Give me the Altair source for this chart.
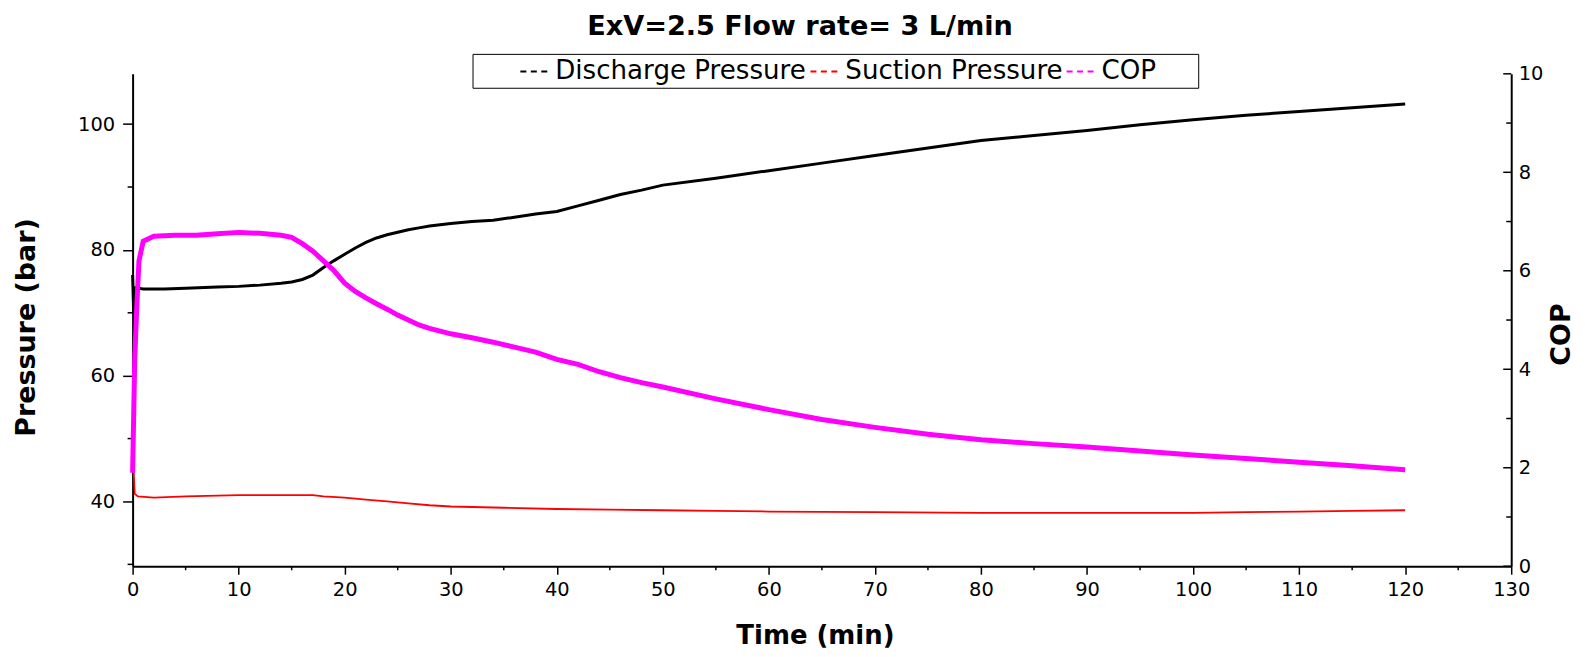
import altair as alt
import pandas as pd

title_text = "ExV=2.5 Flow rate= 3 L/min"
series_names = ["Discharge Pressure", "Suction Pressure", "COP"]
series_colors = ["#000000", "#ff0000", "#ff00ff"]

# Discharge pressure (bar)
dis_t = [0, 0.1, 0.2, 1, 3, 5, 8, 10, 12, 14, 15, 16, 17, 18, 19, 20, 21, 22, 23, 24,
         25, 26, 27, 28, 30, 32, 34, 36, 38, 40, 42, 44, 46, 48, 50, 55, 60, 65, 70, 75,
         80, 85, 90, 95, 100, 105, 110, 115, 120]
dis_v = [76, 70, 74, 73.8, 73.8, 73.9, 74.1, 74.2, 74.4, 74.7, 74.9, 75.3, 76.0, 77.2, 78.3, 79.3, 80.3, 81.2, 81.9, 82.4,
         82.8, 83.2, 83.5, 83.8, 84.2, 84.5, 84.7, 85.2, 85.7, 86.1, 87.0, 87.9, 88.8, 89.5, 90.3, 91.4, 92.6, 93.8, 95.0, 96.2,
         97.4, 98.2, 99.0, 99.9, 100.7, 101.4, 102.0, 102.6, 103.2]

# Suction pressure (bar)
suc_t = [0, 0.1, 0.2, 0.5, 2, 5, 10, 15, 17, 18, 20, 22, 24, 26, 28, 30, 35, 40, 45, 50,
         55, 60, 70, 80, 90, 100, 105, 110, 115, 120]
suc_v = [49.3, 44.8, 41.2, 40.8, 40.6, 40.8, 41.0, 41.0, 41.0, 40.8, 40.6, 40.3, 40.0, 39.7, 39.4, 39.2, 39.0, 38.8, 38.7, 38.6,
         38.5, 38.4, 38.3, 38.2, 38.2, 38.2, 38.3, 38.4, 38.5, 38.6]

# COP
cop_t = [0, 0.2, 0.4, 0.6, 1, 2, 4, 6, 8, 10, 12, 14, 15, 16, 17, 18, 19, 20, 21, 22,
         23, 24, 25, 26, 27, 28, 30, 32, 34, 36, 38, 40, 42, 44, 46, 48, 50, 55, 60, 65,
         70, 75, 80, 85, 90, 95, 100, 105, 110, 115, 120]
cop_v = [1.9, 4.2, 5.3, 6.2, 6.6, 6.7, 6.72, 6.72, 6.75, 6.78, 6.76, 6.72, 6.68, 6.55, 6.4, 6.2, 6.0, 5.75, 5.58, 5.45,
         5.33, 5.22, 5.1, 5.0, 4.9, 4.83, 4.72, 4.64, 4.55, 4.45, 4.35, 4.2, 4.1, 3.95, 3.83, 3.73, 3.64, 3.4, 3.18, 2.98,
         2.82, 2.68, 2.57, 2.49, 2.42, 2.34, 2.26, 2.19, 2.11, 2.04, 1.96]

x_major = list(range(0, 140, 10))
x_minor = list(range(5, 130, 10))
p_major = [40, 60, 80, 100]
p_minor = [30, 50, 70, 90]
cop_major = [0, 2, 4, 6, 8, 10]
cop_minor = [1, 3, 5, 7, 9]

W, H = 1383, 494
FONT = "DejaVu Sans"

dis_df = pd.DataFrame({"t": dis_t, "v": dis_v, "series": series_names[0]})
suc_df = pd.DataFrame({"t": suc_t, "v": suc_v, "series": series_names[1]})
cop_df = pd.DataFrame({"t": cop_t, "v": cop_v, "series": series_names[2]})

x_scale = alt.Scale(domain=[0, 130], nice=False, zero=False)
p_scale = alt.Scale(domain=[29.7, 108.0], nice=False, zero=False)
c_scale = alt.Scale(domain=[0, 10], nice=False, zero=False)
color_scale = alt.Scale(domain=series_names, range=series_colors)

legend = alt.Legend(
    title="\u2003", titleOrient="left", titleFontSize=20, titlePadding=41,
    orient="none", legendX=341, legendY=-20, direction="horizontal",
    symbolType="stroke", symbolSize=729, symbolStrokeWidth=2, symbolDash=[6, 4.5],
    symbolOffset=3, labelOffset=7, columnPadding=0,
    labelFont=FONT, labelFontSize=26.2, labelColor="black", labelLimit=600,
    labelExpr="datum.label == 'COP' ? 'COP\u2800\u2800' : datum.label",
    strokeColor="black", fillColor="white", padding=3,
)

x_axis = alt.Axis(
    values=x_major, tickSize=8, tickWidth=1.5, tickColor="black",
    domainWidth=2, domainColor="black", labelFont=FONT, labelFontSize=19.5,
    labelColor="black", labelPadding=6, labelFlush=False, labelOverlap=False,
    grid=False, title="Time (min)", titleFont=FONT, titleFontSize=26,
    titleFontWeight="bold", titleColor="black", titleX=W / 2 - 7, titleY=70,
    titleAlign="center", titleBaseline="middle",
)
p_axis = alt.Axis(
    values=p_major, tickSize=10, tickWidth=1.5, tickColor="black",
    domainWidth=2, domainColor="black", labelFont=FONT, labelFontSize=19.5,
    labelColor="black", labelPadding=8, labelFlush=False, labelOverlap=False,
    grid=False, title="Pressure (bar)", titleFont=FONT, titleFontSize=27,
    titleFontWeight="bold", titleColor="black", titleAngle=270, titleX=-106,
    titleY=254, titleAlign="center", titleBaseline="middle",
)
c_axis = alt.Axis(
    orient="right", values=cop_major, ticks=False, tickSize=0,
    domainWidth=2, domainColor="black", labelFont=FONT, labelFontSize=19.5,
    labelColor="black", labelPadding=7, labelFlush=False, labelOverlap=False,
    grid=False, title="COP", titleFont=FONT, titleFontSize=27,
    titleFontWeight="bold", titleColor="black", titleAngle=270, titleX=50,
    titleY=261, titleAlign="center", titleBaseline="middle",
)

X = alt.X("t:Q", scale=x_scale, axis=x_axis)
YP = alt.Y("v:Q", scale=p_scale, axis=p_axis)
YC = alt.Y("v:Q", scale=c_scale, axis=c_axis)
C = alt.Color("series:N", scale=color_scale, legend=legend)

dis_line = alt.Chart(dis_df).mark_line(strokeWidth=3).encode(x=X, y=YP, color=C)
suc_line = alt.Chart(suc_df).mark_line(strokeWidth=1.8).encode(x=X, y=YP, color=C)
p_minor_ticks = alt.Chart(pd.DataFrame({"v": p_minor})).mark_rule(
    color="black", strokeWidth=1.5).encode(y=YP, x=alt.value(-5), x2=alt.value(0))
x_minor_ticks = alt.Chart(pd.DataFrame({"t": x_minor})).mark_rule(
    color="black", strokeWidth=1.5).encode(x=X, y=alt.value(H), y2=alt.value(H + 4))

left = alt.layer(dis_line, suc_line, p_minor_ticks, x_minor_ticks)

cop_line = alt.Chart(cop_df).mark_line(strokeWidth=5).encode(x=X, y=YC, color=C)
c_major_ticks = alt.Chart(pd.DataFrame({"v": cop_major})).mark_rule(
    color="black", strokeWidth=1.5).encode(y=YC, x=alt.value(W - 8), x2=alt.value(W))
c_minor_ticks = alt.Chart(pd.DataFrame({"v": cop_minor})).mark_rule(
    color="black", strokeWidth=1.5).encode(y=YC, x=alt.value(W - 5), x2=alt.value(W))

right = alt.layer(cop_line, c_major_ticks, c_minor_ticks)

chart = alt.layer(left, right).resolve_scale(y="independent").properties(
    width=W, height=H,
    padding={"left": 125, "top": 65, "right": 66, "bottom": 82},
    autosize=alt.AutoSizeParams(type="none"),
    title=alt.TitleParams(text=title_text, font=FONT, fontSize=27.2,
                          fontWeight="bold", color="black", anchor="middle",
                          baseline="middle", offset=0, dy=1, dx=-22),
).configure_view(stroke=None)

chart.save("out.html", embed_options={"renderer": "svg", "actions": False})
